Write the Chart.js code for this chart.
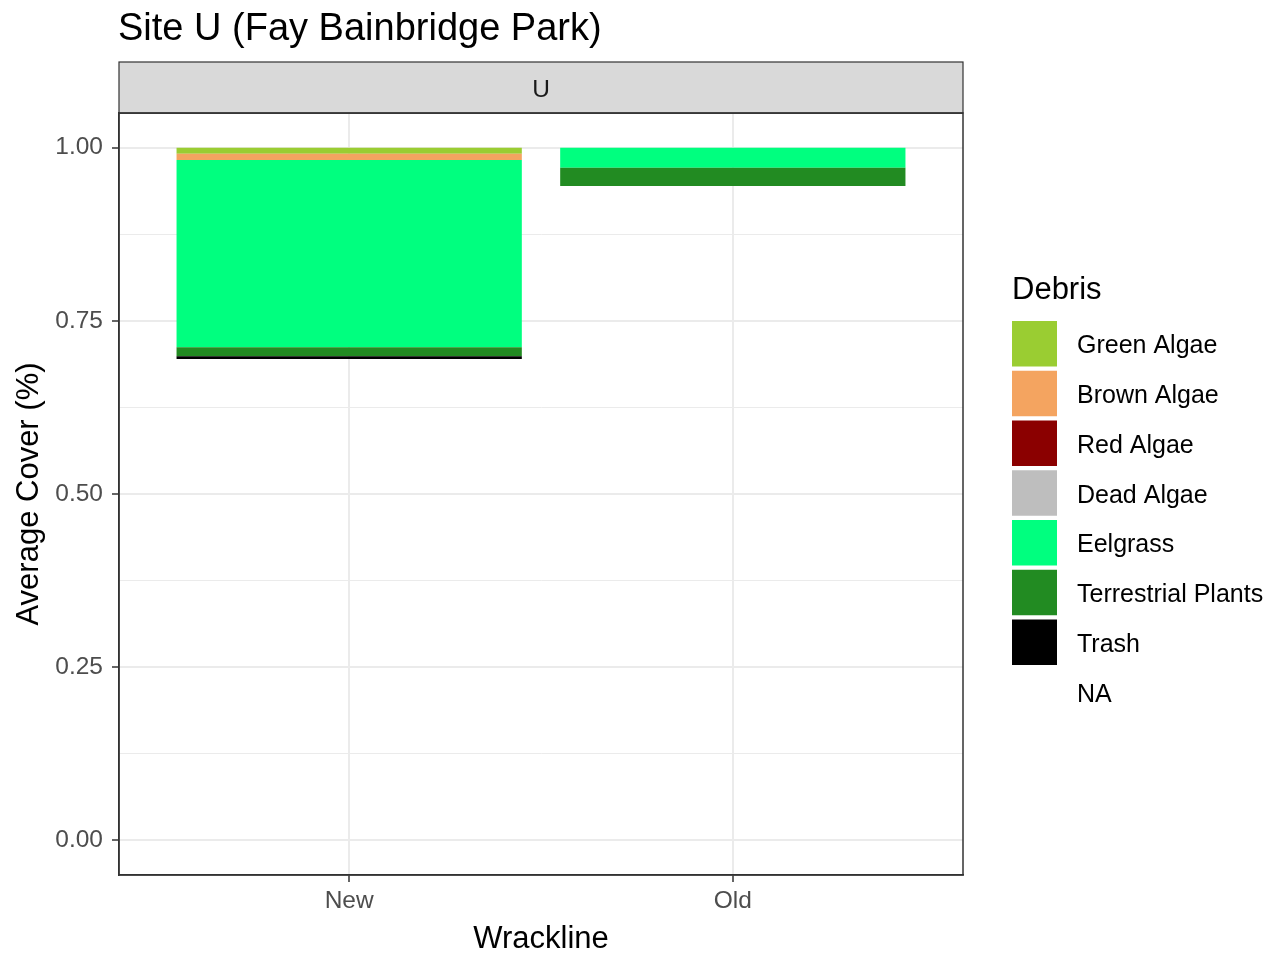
<!DOCTYPE html>
<html>
<head>
<meta charset="utf-8">
<script src="https://cdn.jsdelivr.net/npm/chart.js@4.4.1/dist/chart.umd.min.js"></script>
<style>
html, body { margin: 0; padding: 0; background: #ffffff; }
canvas { display: block; }
</style>
</head>
<body>
<canvas id="chart" width="1283" height="953"></canvas>
<script>
// ---- Texts ----
const chartTitle = 'Site U (Fay Bainbridge Park)';
const facetLabel = 'U';
const xAxisTitle = 'Wrackline';
const yAxisTitle = 'Average Cover (%)';
const legendTitle = 'Debris';

// ---- Categories ----
const wracklines = ['New', 'Old'];
const wracklinePositions = [1, 2];

// ---- Legend order (top to bottom) ----
const debrisTypes = ['Green Algae', 'Brown Algae', 'Red Algae', 'Dead Algae', 'Eelgrass', 'Terrestrial Plants', 'Trash', 'NA'];
const debrisColors = ['#9ACD32', '#F4A460', '#8B0000', '#BEBEBE', '#00FF7F', '#228B22', '#000000', 'rgba(0,0,0,0)'];

// ---- Series values (New, Old) ----
const greenAlgae        = [0.009, 0];
const brownAlgae        = [0.009, 0];
const redAlgae          = [0, 0];
const deadAlgae         = [0, 0];
const eelgrass          = [0.270, 0.029];
const terrestrialPlants = [0.013, 0.0265];
const trash             = [0.004, 0];
const naCover           = [0.695, 0.9445];

// ---- Ticks ----
const yTickValues = [0, 0.125, 0.25, 0.375, 0.5, 0.625, 0.75, 0.875, 1];
const yMajorTicks = [0, 0.25, 0.5, 0.75, 1];

const seriesValues = [greenAlgae, brownAlgae, redAlgae, deadAlgae, eelgrass, terrestrialPlants, trash, naCover];

const FONT = "'Liberation Sans', Arial, Helvetica, sans-serif";
Chart.defaults.font.family = FONT;

const isMajor = v => yMajorTicks.some(m => Math.abs(m - v) < 1e-9);

// bottom of stack first (NA at bottom, Green Algae on top)
const datasets = debrisTypes.map((name, i) => ({
  label: name,
  data: wracklinePositions.map((x, j) => ({ x: x, y: seriesValues[i][j] })),
  backgroundColor: debrisColors[i],
  borderWidth: 0,
  categoryPercentage: 1,
  barPercentage: 0.9
})).reverse();

const decorations = {
  id: 'decorations',
  afterDraw(chart) {
    const { ctx, chartArea: ca } = chart;
    const w = ca.right - ca.left;
    ctx.save();
    // panel border
    ctx.strokeStyle = '#333333';
    ctx.lineWidth = 1.5;
    ctx.strokeRect(ca.left, ca.top, w, ca.bottom - ca.top);
    // facet strip
    ctx.fillStyle = '#D9D9D9';
    ctx.fillRect(ca.left, ca.top - 51, w, 51);
    ctx.lineWidth = 1.2;
    ctx.strokeStyle = '#333333';
    ctx.strokeRect(ca.left, ca.top - 51, w, 51);
    ctx.lineWidth = 1.5;
    ctx.beginPath(); ctx.moveTo(ca.left, ca.top); ctx.lineTo(ca.right, ca.top); ctx.stroke();
    ctx.fillStyle = '#1A1A1A';
    ctx.font = '24.5px ' + FONT;
    ctx.textAlign = 'center';
    ctx.textBaseline = 'middle';
    ctx.fillText(facetLabel, (ca.left + ca.right) / 2, ca.top - 23);
    // title
    ctx.fillStyle = '#000000';
    ctx.font = '38px ' + FONT;
    ctx.textAlign = 'left';
    ctx.textBaseline = 'alphabetic';
    ctx.fillText(chartTitle, ca.left - 1, 40);
    // legend
    const lx = ca.right + 49;
    ctx.font = '31px ' + FONT;
    ctx.fillText(legendTitle, lx, ca.top + 186);
    const keyTop = ca.top + 208;
    const pitch = 49.75;
    ctx.font = '25px ' + FONT;
    ctx.textBaseline = 'middle';
    debrisTypes.forEach((name, i) => {
      const y = keyTop + i * pitch;
      ctx.fillStyle = debrisColors[i];
      ctx.fillRect(lx, y, 45, 45.5);
      ctx.fillStyle = '#000000';
      ctx.fillText(name, lx + 65, y + 25.5);
    });
    ctx.restore();
  }
};

new Chart(document.getElementById('chart'), {
  type: 'bar',
  data: { datasets: datasets },
  options: {
    responsive: false,
    animation: false,
    devicePixelRatio: 1,
    events: [],
    layout: { padding: { top: 113, right: 320, bottom: 0, left: 0 } },
    plugins: {
      legend: { display: false },
      tooltip: { enabled: false },
      title: { display: false }
    },
    scales: {
      x: {
        type: 'linear',
        stacked: true,
        min: 0.4,
        max: 2.6,
        offset: false,
        afterBuildTicks: s => { s.ticks = wracklinePositions.map(v => ({ value: v })); },
        afterFit: s => { s.height = 78; },
        ticks: {
          callback: v => wracklines[wracklinePositions.indexOf(v)],
          autoSkip: false,
          maxRotation: 0,
          font: { size: 24.5 },
          color: '#4D4D4D',
          padding: 5
        },
        grid: {
          offset: false,
          color: '#EBEBEB',
          lineWidth: 2,
          tickLength: 7,
          tickColor: '#333333',
          tickWidth: 1.5
        },
        border: { display: true, color: '#333333', width: 1.5 },
        title: {
          display: true,
          text: xAxisTitle,
          font: { size: 31 },
          color: '#000000',
          padding: { top: 0, bottom: -5 }
        }
      },
      y: {
        stacked: true,
        min: -0.05,
        max: 1.05,
        afterBuildTicks: s => { s.ticks = yTickValues.map(v => ({ value: v })); },
        afterFit: s => { s.width = 119; },
        ticks: {
          callback: v => isMajor(v) ? v.toFixed(2) : '',
          autoSkip: false,
          font: { size: 24.5 },
          color: '#4D4D4D',
          padding: 9
        },
        grid: {
          color: '#EBEBEB',
          lineWidth: ctx => (ctx.tick && isMajor(ctx.tick.value)) ? 2 : 1,
          tickLength: 7,
          tickColor: ctx => (ctx.tick && isMajor(ctx.tick.value)) ? '#333333' : 'rgba(0,0,0,0)',
          tickWidth: 1.5
        },
        border: { display: true, color: '#333333', width: 1.5 },
        title: {
          display: true,
          text: yAxisTitle,
          font: { size: 31 },
          color: '#000000',
          padding: { top: 11, bottom: 0 }
        }
      }
    }
  },
  plugins: [decorations]
});
</script>
</body>
</html>
